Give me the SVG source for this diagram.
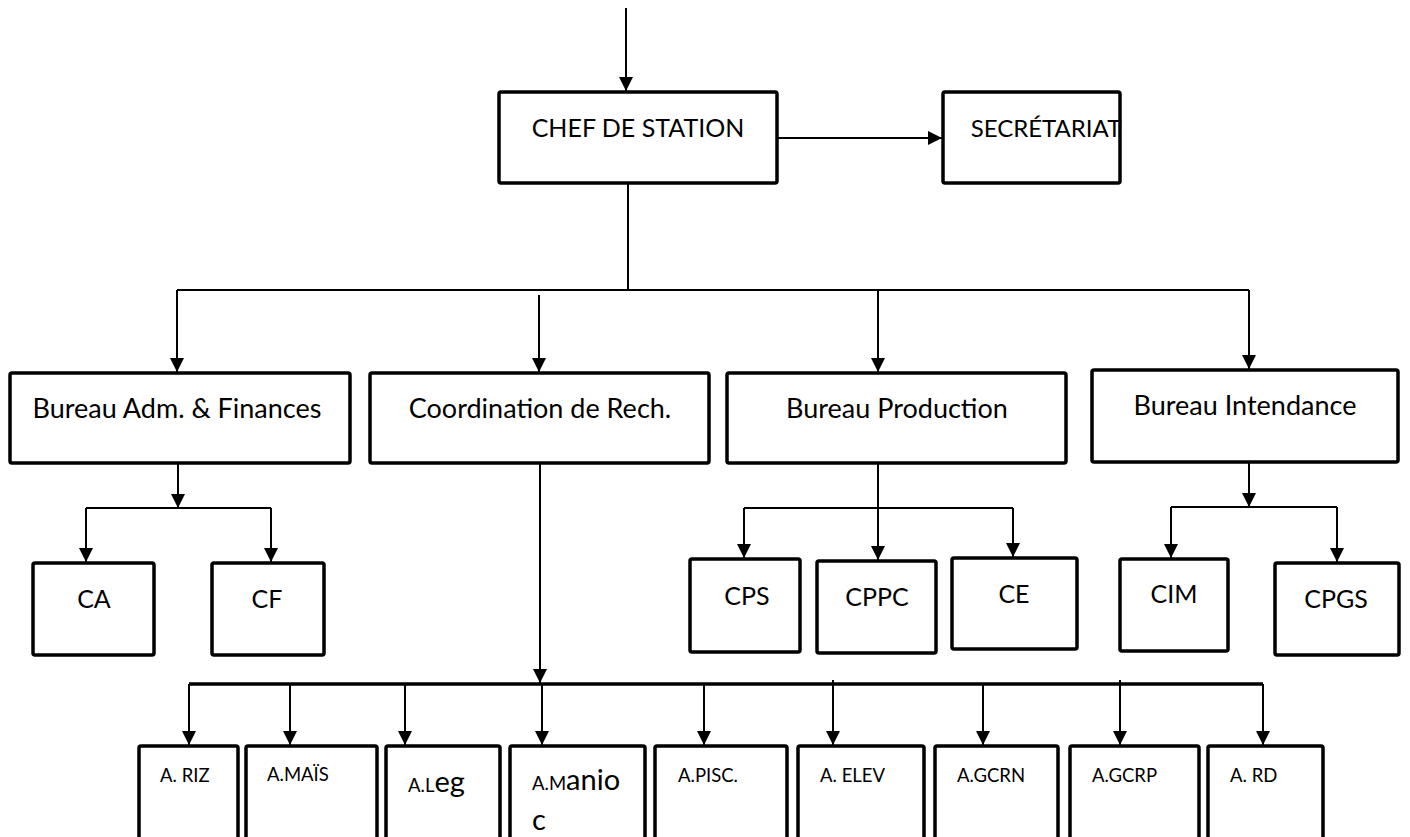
<svg xmlns="http://www.w3.org/2000/svg" width="1410" height="837" viewBox="0 0 1410 837">
<style>
.box{fill:#fff;stroke:#000;stroke-width:3.5;stroke-linejoin:round}
.t{font-family:Lato,"Liberation Sans",sans-serif;font-size:27px;fill:#000;text-anchor:middle}
.k{font-size:25px}
.s{font-family:Lato,"Liberation Sans",sans-serif;font-size:18.5px;fill:#000}
.b{font-size:29px}
.c{fill:none;stroke:#000;stroke-width:2}
.thick{fill:none;stroke:#000;stroke-width:3.5}
</style>
<defs>
<marker id="ah" markerUnits="userSpaceOnUse" markerWidth="14" markerHeight="16" refX="14" refY="7" orient="auto">
<path d="M0,0 L14,7 L0,14 Z" fill="#000"/>
</marker>
</defs>
<rect width="1410" height="837" fill="#fff"/>
<g id="connectors">
<line class="c" x1="626" y1="8" x2="626" y2="91" marker-end="url(#ah)"/>
<line class="c" x1="777" y1="138" x2="942" y2="138" marker-end="url(#ah)"/>
<polyline class="c" points="628,183 628,290"/>
<polyline class="c" points="177,290 1249,290"/>
<line class="c" x1="177" y1="290" x2="177" y2="372" marker-end="url(#ah)"/>
<line class="c" x1="539" y1="295" x2="539" y2="372" marker-end="url(#ah)"/>
<line class="c" x1="878" y1="290" x2="878" y2="372" marker-end="url(#ah)"/>
<line class="c" x1="1249" y1="290" x2="1249" y2="369" marker-end="url(#ah)"/>
<line class="c" x1="178" y1="463" x2="178" y2="508" marker-end="url(#ah)"/>
<polyline class="c" points="86,508 271,508"/>
<line class="c" x1="86" y1="508" x2="86" y2="562" marker-end="url(#ah)"/>
<line class="c" x1="271" y1="508" x2="271" y2="562" marker-end="url(#ah)"/>
<line class="c" x1="878" y1="463" x2="878" y2="560" marker-end="url(#ah)"/>
<polyline class="c" points="744,508 1013,508"/>
<line class="c" x1="744" y1="508" x2="744" y2="558" marker-end="url(#ah)"/>
<line class="c" x1="1013" y1="508" x2="1013" y2="557" marker-end="url(#ah)"/>
<line class="c" x1="1249" y1="462" x2="1249" y2="507" marker-end="url(#ah)"/>
<polyline class="c" points="1171,507 1337,507"/>
<line class="c" x1="1171" y1="507" x2="1171" y2="558" marker-end="url(#ah)"/>
<line class="c" x1="1337" y1="507" x2="1337" y2="562" marker-end="url(#ah)"/>
<line class="c" x1="540" y1="463" x2="540" y2="683" marker-end="url(#ah)"/>
<polyline class="thick" points="189,684 1263,684"/>
<line class="c" x1="189" y1="684" x2="189" y2="745" marker-end="url(#ah)"/>
<line class="c" x1="290" y1="684" x2="290" y2="745" marker-end="url(#ah)"/>
<line class="c" x1="405" y1="684" x2="405" y2="745" marker-end="url(#ah)"/>
<line class="c" x1="542" y1="684" x2="542" y2="745" marker-end="url(#ah)"/>
<line class="c" x1="704" y1="684" x2="704" y2="745" marker-end="url(#ah)"/>
<line class="c" x1="833" y1="680" x2="833" y2="745" marker-end="url(#ah)"/>
<line class="c" x1="983" y1="684" x2="983" y2="745" marker-end="url(#ah)"/>
<line class="c" x1="1120" y1="680" x2="1120" y2="745" marker-end="url(#ah)"/>
<line class="c" x1="1263" y1="684" x2="1263" y2="745" marker-end="url(#ah)"/>
</g>
<g id="chef"><rect class="box" x="499" y="92" width="278" height="91" rx="2"/><text class="t k" x="638" y="137">CHEF DE STATION</text></g>
<g id="secretariat"><rect class="box" x="943" y="92" width="177" height="91" rx="2"/><text class="t" x="1046" y="137" style="font-size:24px">SECRÉTARIAT</text></g>
<g id="baf"><rect class="box" x="10" y="373" width="340" height="90" rx="2"/><text class="t" x="177" y="418">Bureau Adm. &amp; Finances</text></g>
<g id="coord"><rect class="box" x="370" y="373" width="339" height="90" rx="2"/><text class="t" x="540" y="418">Coordination de Rech.</text></g>
<g id="bprod"><rect class="box" x="727" y="373" width="339" height="90" rx="2"/><text class="t" x="897" y="418">Bureau Production</text></g>
<g id="bint"><rect class="box" x="1092" y="370" width="306" height="92" rx="2"/><text class="t" x="1245" y="415">Bureau Intendance</text></g>
<g id="ca"><rect class="box" x="33" y="563" width="121" height="92" rx="2"/><text class="t k" x="94" y="608">CA</text></g>
<g id="cf"><rect class="box" x="212" y="563" width="112" height="92" rx="2"/><text class="t k" x="267" y="608">CF</text></g>
<g id="cps"><rect class="box" x="690" y="559" width="110" height="93" rx="2"/><text class="t k" x="747" y="605">CPS</text></g>
<g id="cppc"><rect class="box" x="817" y="561" width="119" height="92" rx="2"/><text class="t k" x="877" y="606">CPPC</text></g>
<g id="ce"><rect class="box" x="952" y="558" width="125" height="91" rx="2"/><text class="t k" x="1014" y="603">CE</text></g>
<g id="cim"><rect class="box" x="1120" y="559" width="108" height="92" rx="2"/><text class="t k" x="1174" y="603">CIM</text></g>
<g id="cpgs"><rect class="box" x="1275" y="563" width="124" height="92" rx="2"/><text class="t k" x="1336" y="608">CPGS</text></g>
<g id="ariz"><rect class="box" x="139" y="746" width="99" height="100" rx="2"/><text class="s" x="160" y="782">A. RIZ</text></g>
<g id="amais"><rect class="box" x="246" y="746" width="131" height="100" rx="2"/><text class="s" x="267" y="781">A.MAÏS</text></g>
<g id="aleg"><rect class="box" x="386" y="746" width="114" height="100" rx="2"/><text class="s" x="408" y="792">A.L<tspan class="b">eg</tspan></text></g>
<g id="amanioc"><rect class="box" x="510" y="746" width="135" height="100" rx="2"/><text class="s" x="532" y="790">A.M<tspan class="b">anio</tspan></text><text class="s b" x="532" y="830">c</text></g>
<g id="apisc"><rect class="box" x="655" y="746" width="132" height="100" rx="2"/><text class="s" x="678" y="782">A.PISC.</text></g>
<g id="aelev"><rect class="box" x="798" y="746" width="126" height="100" rx="2"/><text class="s" x="820" y="782">A. ELEV</text></g>
<g id="agcrn"><rect class="box" x="935" y="746" width="123" height="100" rx="2"/><text class="s" x="957" y="782">A.GCRN</text></g>
<g id="agcrp"><rect class="box" x="1070" y="746" width="129" height="100" rx="2"/><text class="s" x="1092" y="782">A.GCRP</text></g>
<g id="ard"><rect class="box" x="1208" y="746" width="115" height="100" rx="2"/><text class="s" x="1230" y="782">A. RD</text></g>
</svg>
